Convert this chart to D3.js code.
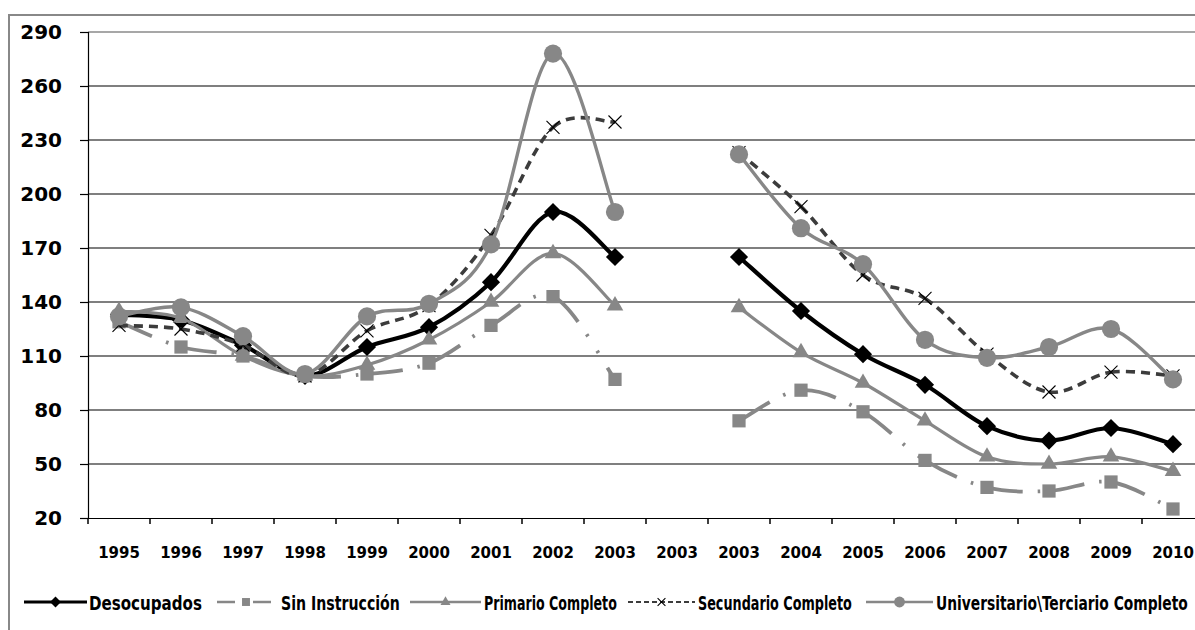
<!DOCTYPE html>
<html>
<head>
<meta charset="utf-8">
<script src="https://cdn.jsdelivr.net/npm/d3@7/dist/d3.min.js"></script>
<style>
  html, body { margin: 0; padding: 0; background: #fff; }
  svg { display: block; }
</style>
</head>
<body>
<svg id="chart" width="1195" height="630"></svg>
<script>
// ---------- DATA ----------
const categories = ["1995","1996","1997","1998","1999","2000","2001","2002","2003","2003","2003","2004","2005","2006","2007","2008","2009","2010"];
const yTicks = [20, 50, 80, 110, 140, 170, 200, 230, 260, 290];

const desocupados    = [133, 130, 116, 99, 115, 126, 151, 190, 165, null, 165, 135, 111, 94, 71, 63, 70, 61];
const sinInstruccion = [129, 115, 110, 99, 100, 106, 127, 143, 97, null, 74, 91, 79, 52, 37, 35, 40, 25];
const primario       = [135, 131, 110, 99, 105, 119, 140, 167, 138, null, 137, 112, 95, 74, 54, 50, 54, 46];
const secundario     = [127, 125, 116, 99, 124, 138, 177, 237, 240, null, 223, 193, 155, 142, 111, 90, 101, 99];
const universitario  = [132, 137, 121, 100, 132, 139, 172, 278, 190, null, 222, 181, 161, 119, 109, 115, 125, 97];

const seriesNames = ["Desocupados", "Sin Instrucción", "Primario Completo", "Secundario Completo", "Universitario\\Terciario Completo"];

// ---------- LAYOUT / STYLE ----------
const svg = d3.select("#chart");
const plotLeft = 88, plotTop = 32, plotBottom = 518, step = 62;
const plotRight = plotLeft + categories.length * step;

const x = d3.scaleBand().domain(d3.range(categories.length)).range([plotLeft, plotRight]).padding(0);
const cx = i => x(i) + x.bandwidth() / 2;
const y = d3.scaleLinear().domain([20, 290]).range([plotBottom, plotTop]);

const gray = "#878787";
const styles = [
  { data: desocupados,    color: "#000", width: 4.2, dash: null,                 marker: "diamond", mcolor: "#000" },
  { data: sinInstruccion, color: gray,   width: 3.8, dash: "36,15,2.5,17,2.5,17", marker: "square",  mcolor: gray },
  { data: primario,       color: gray,   width: 3.2, dash: null,                 marker: "triangle", mcolor: gray },
  { data: secundario,     color: "#3c3c3c", width: 3.6, dash: "9,6",             marker: "x",       mcolor: "#000" },
  { data: universitario,  color: gray,   width: 3.4, dash: null,                 marker: "circle",  mcolor: gray }
];

// outer chart border
svg.append("path")
  .attr("d", `M9,640 L9,15 L1200,15`)
  .attr("fill", "none").attr("stroke", "#888").attr("stroke-width", 2);

// plot area top border
svg.append("line").attr("x1", plotLeft).attr("x2", plotRight)
  .attr("y1", y(290)).attr("y2", y(290)).attr("stroke", "#8a8a8a").attr("stroke-width", 1.5);

// gridlines
svg.append("g").selectAll("line").data(yTicks.filter(t => t > 20 && t < 290)).join("line")
  .attr("x1", plotLeft).attr("x2", plotRight)
  .attr("y1", d => y(d)).attr("y2", d => y(d))
  .attr("stroke", "#000").attr("stroke-width", 1.2);

// y axis
const yAxis = svg.append("g").attr("transform", `translate(${plotLeft},0)`)
  .call(d3.axisLeft(y).tickValues(yTicks).tickSize(8).tickPadding(18));
yAxis.select(".domain").attr("stroke", "#000").attr("stroke-width", 1.2);
yAxis.selectAll(".tick line").attr("stroke", "#000").attr("stroke-width", 1.2);
yAxis.selectAll("text").attr("font-family", "DejaVu Sans").attr("font-weight", "bold")
  .attr("font-size", 20).attr("fill", "#000");

// x axis
const xAxis = svg.append("g").attr("transform", `translate(0,${plotBottom})`)
  .call(d3.axisBottom(x).tickFormat(i => categories[i]).tickSize(0).tickPadding(29));
xAxis.select(".domain").attr("stroke", "#000").attr("stroke-width", 1.2);
xAxis.selectAll("text").attr("font-family", "DejaVu Sans").attr("font-weight", "bold")
  .attr("font-size", 15).attr("fill", "#000");
// category boundary tick marks
svg.append("g").selectAll("line").data(d3.range(categories.length + 1)).join("line")
  .attr("x1", i => i < categories.length ? x(i) : plotRight)
  .attr("x2", i => i < categories.length ? x(i) : plotRight)
  .attr("y1", plotBottom).attr("y2", plotBottom + 6)
  .attr("stroke", "#000").attr("stroke-width", 1.5);

// ---------- smoothed segments (cardinal, tension 0), one path per segment ----------
function runs(vals) {
  const out = []; let cur = [];
  vals.forEach((v, i) => {
    if (v == null) { if (cur.length) out.push(cur); cur = []; }
    else cur.push([cx(i), y(v)]);
  });
  if (cur.length) out.push(cur);
  return out;
}
function segmentPaths(vals) {
  const paths = [];
  runs(vals).forEach(P => {
    for (let j = 0; j < P.length - 1; j++) {
      const p0 = P[j - 1] || P[j], p1 = P[j], p2 = P[j + 1], p3 = P[j + 2] || P[j + 1];
      const c1 = [p1[0] + (p2[0] - p0[0]) / 6, p1[1] + (p2[1] - p0[1]) / 6];
      const c2 = [p2[0] - (p3[0] - p1[0]) / 6, p2[1] - (p3[1] - p1[1]) / 6];
      const p = d3.path();
      p.moveTo(p1[0], p1[1]);
      p.bezierCurveTo(c1[0], c1[1], c2[0], c2[1], p2[0], p2[1]);
      paths.push(p.toString());
    }
  });
  return paths;
}

function markerPath(type, scale) {
  switch (type) {
    case "diamond": return d3.symbol(d3.symbolSquare, 165 * scale * scale)();
    case "square": return d3.symbol(d3.symbolSquare, 175 * scale * scale)();
    case "triangle": return d3.symbol(d3.symbolTriangle, 120 * scale * scale)();
    case "circle": return d3.symbol(d3.symbolCircle, 260 * scale * scale)();
    case "x": { const h = 6.5 * scale; return `M${-h},${-h}L${h},${h}M${-h},${h}L${h},${-h}`; }
  }
}
function drawMarker(g, type, color, px, py, scale) {
  const m = g.append("path").attr("d", markerPath(type, scale))
    .attr("transform", `translate(${px},${py})` + (type === "diamond" ? " rotate(45)" : ""));
  if (type === "x") m.attr("fill", "none").attr("stroke", color).attr("stroke-width", 1.1);
  else m.attr("fill", color).attr("stroke", "none");
}

// draw series in order (later on top)
styles.forEach(s => {
  const g = svg.append("g");
  g.selectAll("path.seg").data(segmentPaths(s.data)).join("path").attr("class", "seg")
    .attr("d", d => d).attr("fill", "none")
    .attr("stroke", s.color).attr("stroke-width", s.width)
    .attr("stroke-linecap", s.dash ? "butt" : "round").attr("stroke-linejoin", "round")
    .attr("stroke-dasharray", s.dash);
  s.data.forEach((v, i) => { if (v != null) drawMarker(g, s.marker, s.mcolor, cx(i), y(v), 1); });
});

// ---------- legend ----------
const legendY = 602;
const legendItems = [
  { x0: 24,  x1: 87,  tx: 89,  tw: 113 },
  { x0: 214, x1: 278, tx: 281, tw: 119 },
  { x0: 410, x1: 481, tx: 484, tw: 133 },
  { x0: 628, x1: 695, tx: 698, tw: 154 },
  { x0: 866, x1: 933, tx: 936, tw: 252 }
];
const lg = svg.append("g");
styles.forEach((s, k) => {
  const it = legendItems[k];
  const line = lg.append("line").attr("x1", it.x0).attr("x2", it.x1)
    .attr("y1", legendY).attr("y2", legendY)
    .attr("stroke", s.color).attr("stroke-width", k === 0 ? 3 : (k === 3 ? 2 : 2.6));
  if (k === 1) line.attr("stroke-dasharray", "18,8,2,8,18").attr("stroke", gray).attr("x1", it.x0 + 3);
  if (k === 3) line.attr("stroke-dasharray", "5,3");
  drawMarker(lg, s.marker, s.mcolor, (it.x0 + it.x1) / 2, legendY, 0.6);
  const t = lg.append("text").attr("x", 0).attr("y", 0)
    .attr("font-family", "DejaVu Sans Condensed, DejaVu Sans").attr("font-size", 19)
    .attr("font-weight", "bold")
    .attr("fill", "#000").text(seriesNames[k]);
  const natural = t.node().getComputedTextLength();
  t.attr("transform", `translate(${it.tx},${legendY + 8}) scale(${it.tw / natural},1)`);
});
</script>
</body>
</html>
